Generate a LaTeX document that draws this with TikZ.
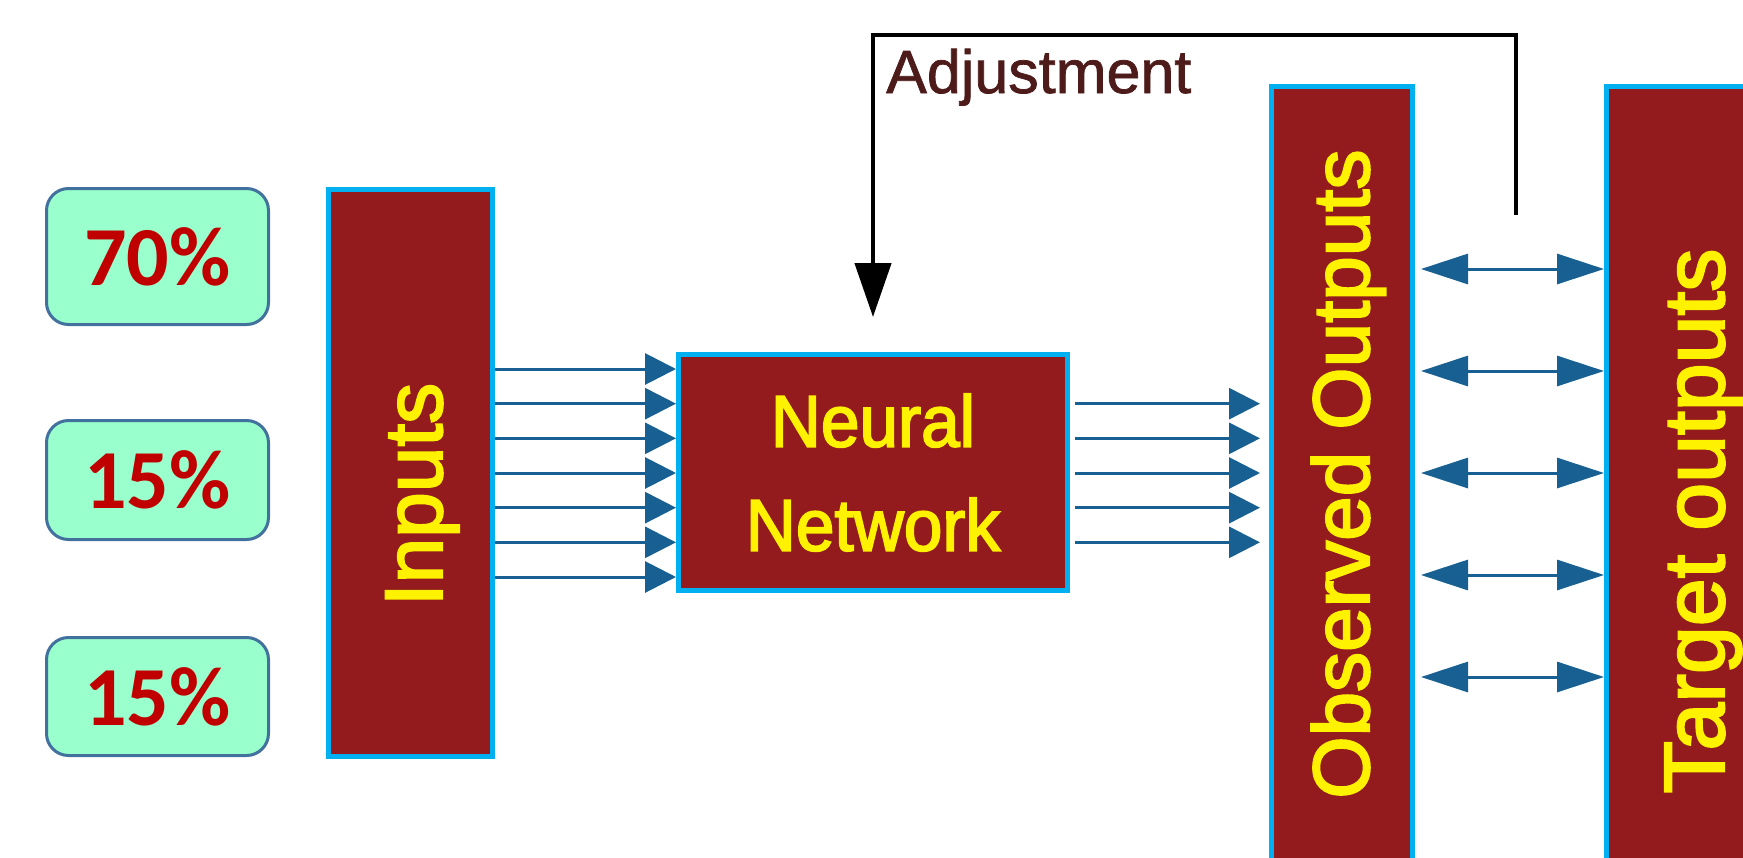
\documentclass[tikz,border=0pt]{standalone}
\usepackage{fontspec}
\setmainfont{Liberation Sans}
\newfontfamily\pctfont{Carlito}
\newfontfamily\nnfont[FakeStretch=0.95,FakeBold=2.5]{Liberation Sans}
\newfontfamily\labfont[FakeBold=2.5]{Liberation Sans}
\newfontfamily\adjfont[FakeBold=1.2]{Liberation Sans}
\usetikzlibrary{arrows.meta}
\definecolor{boxred}{RGB}{147,27,30}
\definecolor{boxcyan}{RGB}{0,176,240}
\definecolor{arrowblue}{RGB}{23,96,145}
\definecolor{pctgreen}{RGB}{153,255,204}
\definecolor{pctborder}{RGB}{65,113,156}
\definecolor{pcttext}{RGB}{192,0,0}
\definecolor{adjtext}{RGB}{77,28,26}
\begin{document}
\begin{tikzpicture}[x=1pt,y=-1pt,
  redbox/.style={draw=boxcyan, line width=5pt, fill=boxred, inner sep=0pt},
  pctbox/.style={draw=pctborder, line width=3pt, fill=pctgreen, rounded corners=22pt,
    minimum width=222pt, inner sep=0pt, text=pcttext,
    font=\fontsize{84}{84}\pctfont\bfseries},
  vlabel/.style={rotate=90, anchor=base, inner sep=0pt, text=yellow},
  inarrow/.style={draw=arrowblue, line width=3pt, -{Triangle[length=31pt,width=31pt]}},
  cmparrow/.style={draw=arrowblue, line width=3pt,
    {Triangle[length=47pt,width=30pt]}-{Triangle[length=47pt,width=30pt]}},
  adjarrow/.style={draw=black, line width=4.5pt, line join=miter,
    -{Triangle[length=54pt,width=36pt]}}
]
\useasboundingbox (0,0) rectangle (1743,857);
\fill[white] (0,0) rectangle (1743,857);

% percentage boxes
\node[pctbox, minimum height=136pt] (p70) at (157.5,256.5) {70\%};
\node[pctbox, minimum height=119pt] (p15a) at (157.5,480) {15\%};
\node[pctbox, minimum height=118pt] (p15b) at (157.5,696.5) {15\%};

% main boxes
\node[redbox, minimum width=164pt, minimum height=567pt] (inputs) at (410.5,473) {};
\node[vlabel, font=\fontsize{82}{82}\labfont] (inlabel) at (442,494.5) {Inputs};

\node[redbox, minimum width=389pt, minimum height=236pt, align=center, text=yellow,
  font=\fontsize{73}{104}\nnfont] (nn) at (873,472.5) {Neural\\Network};

\node[redbox, minimum width=141pt, minimum height=813.5pt] (obs) at (1342,493.25) {};
\node[vlabel, font=\fontsize{80}{80}\labfont] (obslabel) at (1369,474) {Observed Outputs};

\node[redbox, minimum width=193.5pt, minimum height=813.5pt] (tgt) at (1703.25,493.25) {};
\node[vlabel, font=\fontsize{86}{86}\labfont] (tgtlabel) at (1724,521) {Target outputs};

% inputs -> network
\foreach \i in {0,...,6}{
  \pgfmathsetmacro\yy{369+34.667*\i}
  \draw[inarrow] (inputs.east |- 0,\yy) -- (nn.west |- 0,\yy);
}

% network -> observed outputs
\coordinate (nnout) at ([xshift=5pt]nn.east);
\coordinate (obsin) at ([xshift=-9pt]obs.west);
\foreach \i in {1,...,5}{
  \pgfmathsetmacro\yy{369+34.667*\i}
  \draw[inarrow] (nnout |- 0,\yy) -- (obsin |- 0,\yy);
}

% comparison arrows
\coordinate (obsout) at ([xshift=6pt]obs.east);
\foreach \i in {0,...,4}{
  \pgfmathsetmacro\yy{269+102*\i}
  \draw[cmparrow] (obsout |- 0,\yy) -- (tgt.west |- 0,\yy);
}

% adjustment feedback
\coordinate (adjstart) at (1516,215);
\coordinate (adjend) at ([yshift=35pt]nn.north);
\draw[adjarrow] (adjstart) -- (adjstart |- 0,35) -| (adjend);
\node[anchor=base west, inner sep=0pt, text=adjtext, font=\fontsize{61}{61}\adjfont]
  (adj) at (886,93) {Adjustment};
\end{tikzpicture}
\end{document}
